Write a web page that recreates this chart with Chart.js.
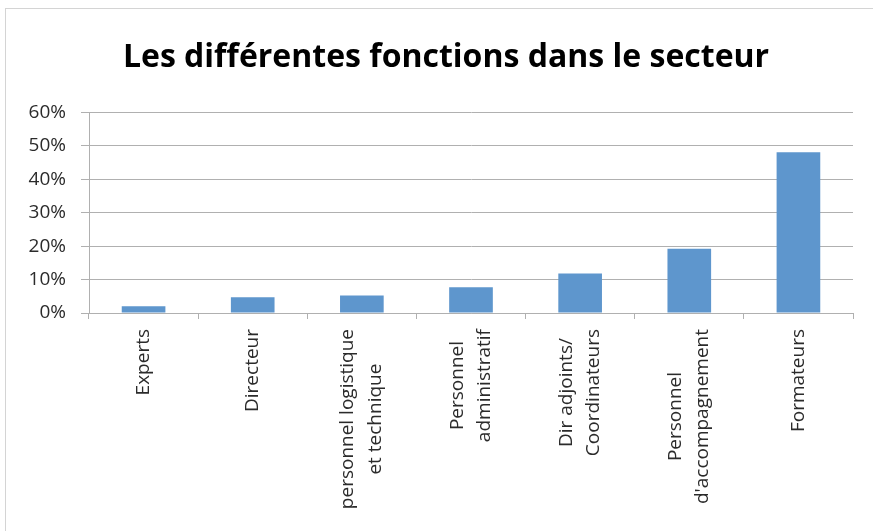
<!DOCTYPE html>
<html>
<head>
<meta charset="utf-8">
<script src="https://cdn.jsdelivr.net/npm/chart.js@4"></script>
<style>
  html, body { margin: 0; padding: 0; background: #fff; }
  #frame {
    position: absolute; left: 5px; top: 8px;
    width: 868px; height: 523px;
    border-left: 1px solid #d4d4d4; border-top: 1px solid #d4d4d4;
  }
</style>
</head>
<body>
<div id="frame"><canvas id="chart" width="868" height="523"></canvas></div>
<script>
const categories = [
  "Experts",
  "Directeur",
  ["personnel logistique", "et technique"],
  ["Personnel", "administratif"],
  ["Dir adjoints/", "Coordinateurs"],
  ["Personnel", "d'accompagnement"],
  "Formateurs"
];
const shares = [2.0, 4.7, 5.2, 7.7, 11.8, 19.2, 48.1];
const yTicks = [0, 10, 20, 30, 40, 50, 60];

const gridGrey = "#b0b0b0";
const textColor = "#2b2b2b";
const labelFont = { family: "Open Sans", size: 19, lineHeight: 1.45 };

// center the rotated multi-line category labels like Excel does
const centerLabels = {
  id: "centerLabels",
  afterLayout(chart) {
    // the title sits a bit right of the canvas middle in the original
    chart.titleBlock.left += 33;
  },
  beforeDraw(chart) {
    const scale = chart.scales.x;
    const items = scale.getLabelItems();
    const ctx = chart.ctx;
    ctx.save();
    ctx.font = labelFont.size + "px '" + labelFont.family + "'";
    items.forEach((item) => {
      if (item._centered) return;
      const lines = Array.isArray(item.label) ? item.label : [item.label];
      const lh = labelFont.size * labelFont.lineHeight;
      const w = Math.max(...lines.map((l) => ctx.measureText(l).width));
      item.textOffset -= (lines.length - 1) * lh / 2;
      item.options.textAlign = "center";
      item.options.translation = [item.options.translation[0], item.options.translation[1] + w / 2];
      item._centered = true;
    });
    ctx.restore();
  }
};

new Chart(document.getElementById("chart").getContext("2d"), {
  type: "bar",
  data: {
    labels: categories,
    datasets: [{
      label: "Fonctions",
      data: shares,
      backgroundColor: "#5e96cd",
      barPercentage: 0.4,
      categoryPercentage: 1
    }]
  },
  options: {
    responsive: false,
    animation: false,
    layout: { padding: { left: 0, right: 21, top: 0, bottom: 0 } },
    plugins: {
      legend: { display: false },
      tooltip: { enabled: false },
      title: {
        display: true,
        text: "Les différentes fonctions dans le secteur",
        color: "#000",
        font: { family: "Open Sans", size: 32, weight: "bold", lineHeight: 1.2 },
        padding: { top: 30, bottom: 35 }
      }
    },
    scales: {
      x: {
        grid: {
          offset: true,
          drawOnChartArea: false,
          color: gridGrey,
          tickLength: 6
        },
        border: { color: gridGrey },
        ticks: {
          color: textColor,
          minRotation: 90,
          maxRotation: 90,
          padding: 10,
          autoSkip: false,
          font: labelFont
        },
        afterFit: (scale) => { scale.height = 219; }
      },
      y: {
        min: 0,
        max: 60,
        afterBuildTicks: (scale) => { scale.ticks = yTicks.map(v => ({ value: v })); },
        grid: { color: gridGrey, tickLength: 8 },
        border: { color: gridGrey },
        ticks: {
          color: textColor,
          padding: 15,
          font: { family: "Open Sans", size: 19 },
          callback: (v) => v + "%"
        },
        afterFit: (scale) => { scale.width = 83; }
      }
    }
  },
  plugins: [centerLabels]
});
</script>
</body>
</html>
